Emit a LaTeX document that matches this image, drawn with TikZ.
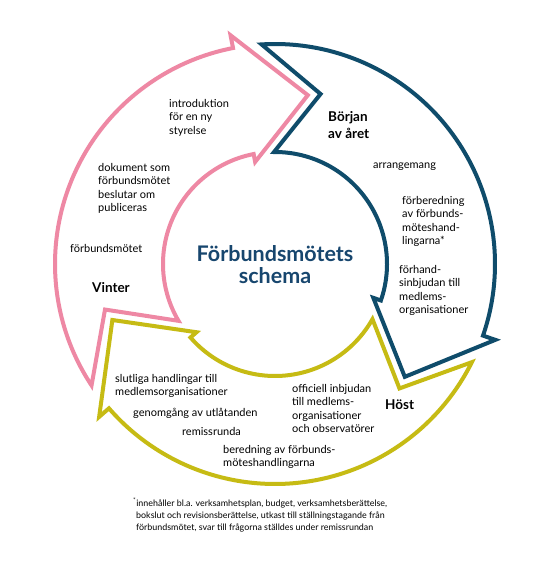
\documentclass[tikz,border=0pt]{standalone}
\usepackage{fontspec}
\setmainfont{Lato}
\definecolor{pinkc}{HTML}{EE88A4}
\definecolor{bluec}{HTML}{0F4C6B}
\definecolor{yelc}{HTML}{C6BB14}
\definecolor{titlec}{HTML}{17466E}
\newcommand\cycarrow[3]{%
  \draw[band, draw=#2] ({#1+1.5}:220) arc[start angle=#1+1.5, end angle=#1-111, radius=220pt]
    -- ({#1-111}:233) -- ({#1-133}:172) -- ({#1-111}:104) -- ({#1-111}:112)
    arc[start angle=#1-111, end angle=#1-1.5, radius=112pt]
    -- ({#1-17}:176) -- cycle;
  \coordinate (#3) at ({#1-60}:166);}
\begin{document}
\begin{tikzpicture}[x=1pt,y=1pt,
  band/.style={line width=4pt, line join=miter, miter limit=10, fill=white},
  txt/.style={font=\fontsize{11}{13.5}\selectfont, align=left, anchor=north west, inner sep=0pt},
  season/.style={font=\fontsize{13.5}{17}\selectfont\bfseries, align=left, anchor=north west, inner sep=0pt},
  titletxt/.style={font=\fontsize{21.5}{21.5}\selectfont\bfseries, text=titlec, align=center, inner sep=0pt},
  foot/.style={font=\fontsize{8.9}{12}\selectfont, align=left, anchor=north west, inner sep=0pt}]
\useasboundingbox (0,0) rectangle (550,568);
\fill[white] (0,0) rectangle (550,568);
\begin{scope}[shift={(275,304)}]
  \cycarrow{212}{pinkc}{pinkmid}
  \cycarrow{92}{bluec}{bluemid}
  \cycarrow{-28}{yelc}{yelmid}
\end{scope}
\node[titletxt] (title) at (275,303.5) {Förbundsmötets\\schema};
% pink
\node[txt] (intro) at (169,469) {introduktion\\för en ny\\styrelse};
\node[txt] (dok) at (98,405) {dokument som\\förbundsmötet\\beslutar om\\publiceras};
\node[txt] (fm) at (70,324) {förbundsmötet};
\node[season] (vinter) at (92,286) {Vinter};
% blue
\node[season] (borjan) at (328,457) {Början\\av året};
\node[txt] (arr) at (373,405) {arrangemang};
\node[txt] (forb) at (402,372) {förberedning\\av förbunds-\\möteshand-\\lingarna*};
\node[txt] (forh) at (399,303) {förhand-\\sinbjudan till\\medlems-\\organisationer};
% yellow
\node[txt] (slut) at (115,194) {slutliga handlingar till\\medlemsorganisationer};
\node[txt] (genom) at (133,160) {genomgång av utlåtanden};
\node[txt] (remiss) at (182,141) {remissrunda};
\node[txt] (bered) at (223,123) {beredning av förbunds-\\möteshandlingarna};
\node[txt] (off) at (292,184) {officiell inbjudan\\till medlems-\\organisationer\\och observatörer};
\node[season] (host) at (385,168) {Höst};
% footnote
\node[foot] (fn) at (133,70) {\textsuperscript{*}innehåller bl.a. verksamhetsplan, budget, verksamhetsberättelse,\\\hspace*{3pt}bokslut och revisionsberättelse, utkast till ställningstagande från\\\hspace*{3pt}förbundsmötet, svar till frågorna ställdes under remissrundan};
\end{tikzpicture}
\end{document}
